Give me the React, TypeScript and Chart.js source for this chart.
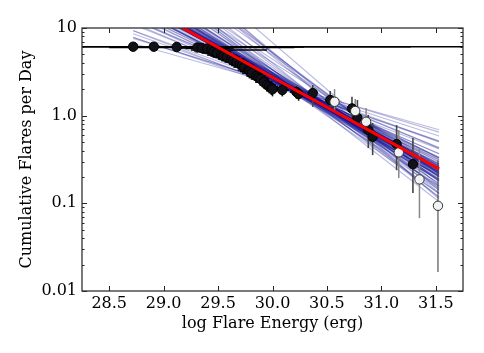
import React, { useEffect, useRef } from 'react';
import { Chart, registerables } from 'chart.js';

Chart.register(...registerables);

// ---------- data ----------
// filled (detected) flares: log energy, cumulative rate, vertical error range, horizontal error range
const filledEnergy = [28.72, 28.91, 29.12, 29.31, 29.35, 29.40, 29.44, 29.46, 29.49, 29.53, 29.55, 29.58, 29.62, 29.64, 29.67, 29.70, 29.72, 29.74, 29.78, 29.79, 29.81, 29.85, 29.87, 29.89, 29.92, 29.95, 29.97, 29.99, 30.00, 30.09, 30.22, 30.24, 30.37, 30.53, 30.73, 30.78, 30.88, 30.92, 31.14, 31.29];
const filledRate = [6.12, 6.12, 6.07, 5.99, 5.91, 5.83, 5.61, 5.40, 5.18, 4.92, 4.80, 4.67, 4.43, 4.25, 4.09, 3.88, 3.75, 3.59, 3.32, 3.20, 3.06, 2.83, 2.72, 2.62, 2.42, 2.24, 2.15, 2.07, 2.00, 1.96, 1.86, 1.77, 1.81, 1.51, 1.21, 0.946, 0.685, 0.574, 0.474, 0.280];
const filledRateLo = [5.85, 5.85, 5.80, 5.70, 5.62, 5.52, 5.30, 5.08, 4.86, 4.60, 4.47, 4.33, 4.09, 3.91, 3.74, 3.53, 3.40, 3.24, 2.97, 2.85, 2.70, 2.48, 2.36, 2.25, 2.05, 1.88, 1.80, 1.72, 1.66, 1.66, 1.56, 1.48, 1.26, 1.25, 0.94, 0.80, 0.427, 0.355, 0.239, 0.131];
const filledRateHi = [6.40, 6.40, 6.35, 6.28, 6.20, 6.14, 5.92, 5.72, 5.50, 5.24, 5.13, 5.01, 4.77, 4.59, 4.44, 4.23, 4.10, 3.94, 3.67, 3.55, 3.42, 3.18, 3.08, 2.99, 2.79, 2.60, 2.50, 2.42, 2.34, 2.26, 2.16, 2.06, 2.24, 1.91, 1.64, 1.51, 1.02, 0.824, 0.781, 0.555];
const filledEnergyLo = [28.25, 28.25, 28.85, 28.5, 29.10, 29.20, 29.25, 29.32, 29.35, 29.40, 29.43, 29.45, 29.50, 29.53, 29.56, 29.60, 29.62, 29.64, 29.68, 29.70, 29.72, 29.76, 29.78, 29.80, 29.84, 29.88, 29.90, 29.92, 29.94, 30.03, 30.16, 30.18, 30.37, 30.53, 30.73, 30.78, 30.88, 30.92, 31.14, 31.29];
const filledEnergyHi = [31.75, 31.27, 30.29, 30.20, 29.65, 29.60, 29.95, 29.62, 29.62, 29.66, 29.68, 29.70, 29.74, 29.76, 29.78, 29.81, 29.83, 29.85, 29.88, 29.89, 29.91, 29.94, 29.96, 29.97, 30.00, 30.03, 30.05, 30.06, 30.07, 30.15, 30.28, 30.30, 30.37, 30.53, 30.73, 30.78, 30.88, 30.92, 31.14, 31.29];

// open (hollow) markers
const openEnergy = [30.57, 30.76, 30.86, 31.16, 31.35, 31.52];
const openRate = [1.44, 1.13, 0.852, 0.381, 0.1875, 0.0937];
const openRateLo = [1.16, 0.867, 0.60, 0.194, 0.0678, 0.0165];
const openRateHi = [2.01, 1.55, 1.22, 0.685, 0.427, 0.311];

// best-fit power law (red) and posterior samples (blue), given at the two ends of the fit range
const fitEnergy = [28.72, 31.53];
const bestFitRate = [20.5, 0.247];
const sampleStartLog = [1.304, 1.326, 1.277, 1.378, 1.19, 1.385, 1.452, 1.208, 1.233, 1.376, 1.444, 1.146, 1.231, 1.419, 1.30, 1.543, 1.642, 1.741, 1.109, 1.04, 0.971, 0.892, 0.823, 0.894, 0.88, 0.968, 1.65, 1.576, 1.88, 1.754, 1.491, 1.299, 1.265, 1.312, 1.363, 1.467, 1.164, 1.334, 1.557, 1.448, 1.323, 1.101, 1.057, 1.26, 1.418, 1.529, 1.311, 1.415, 1.182, 1.53, 1.346, 1.269, 1.349, 1.22, 1.717, 0.935, 1.092, 1.665, 1.372, 1.227, 2.20, 2.05, 1.95, 2.10, 1.90, 1.82, 1.98, 1.70, 1.60, 1.51, 1.40, 1.35, 1.29, 1.31, 1.33, 1.36, 1.30, 1.28, 1.34, 1.32, 1.35, 1.31, 1.29, 1.42, 1.45, 1.38, 1.48];
const sampleEndLog = [-0.606, -0.641, -0.55, -0.646, -0.553, -0.723, -0.739, -0.478, -0.622, -0.591, -0.804, -0.483, -0.567, -0.66, -0.639, -0.846, -0.887, -0.929, -0.437, -0.365, -0.294, -0.232, -0.161, -0.287, -0.187, -0.38, -0.822, -0.729, -0.93, -0.832, -0.645, -0.584, -0.505, -0.683, -0.688, -0.697, -0.55, -0.576, -0.803, -0.772, -0.532, -0.501, -0.432, -0.679, -0.606, -0.888, -0.487, -0.693, -0.476, -0.746, -0.621, -0.614, -0.73, -0.523, -0.981, -0.301, -0.37, -0.78, -0.623, -0.60, -0.80, -0.85, -0.75, -0.95, -0.70, -0.66, -0.88, -0.62, -0.58, -0.66, -0.60, -0.66, -0.61, -0.63, -0.59, -0.65, -0.62, -0.57, -0.64, -0.66, -0.61, -0.68, -0.60, -0.70, -0.72, -0.67, -0.74];

// axes
const xTickValues = [28.5, 29.0, 29.5, 30.0, 30.5, 31.0, 31.5];
const xTickLabels = ['28.5', '29.0', '29.5', '30.0', '30.5', '31.0', '31.5'];
const yTickValues = [0.01, 0.1, 1, 10];
const yTickLabels = ['0.01', '0.1', '1.0', '10'];
const yMinorTicks = [0.02, 0.03, 0.04, 0.05, 0.06, 0.07, 0.08, 0.09, 0.2, 0.3, 0.4, 0.5, 0.6, 0.7, 0.8, 0.9, 2, 3, 4, 5, 6, 7, 8, 9];
const xLimits = [28.25, 31.75];
const yLimits = [0.01, 10];

const FONT = "'DejaVu Serif', serif";
const FONT_SIZE = 16;

const frameTicks = {
  id: 'frameTicks',
  afterDatasetsDraw(chart: any) {
    const { ctx, chartArea, scales } = chart;
    const { left, right, top, bottom } = chartArea;
    const x = scales.x;
    const y = scales.y;
    ctx.save();
    ctx.strokeStyle = '#222';
    ctx.lineWidth = 1;
    const seg = (x1: number, y1: number, x2: number, y2: number) => {
      ctx.beginPath();
      ctx.moveTo(x1, y1);
      ctx.lineTo(x2, y2);
      ctx.stroke();
    };
    for (const t of xTickValues) {
      const px = Math.round(x.getPixelForValue(t)) + 0.5;
      seg(px, bottom, px, bottom - 5);
      seg(px, top, px, top + 5);
    }
    for (const t of yTickValues) {
      const py = Math.round(y.getPixelForValue(t)) + 0.5;
      seg(left, py, left + 5, py);
      seg(right, py, right - 5, py);
    }
    for (const t of yMinorTicks) {
      const py = Math.round(y.getPixelForValue(t)) + 0.5;
      seg(left, py, left + 2.5, py);
      seg(right, py, right - 2.5, py);
    }
    ctx.lineWidth = 1.3;
    ctx.strokeStyle = '#333';
    ctx.strokeRect(left, top, right - left, bottom - top);
    ctx.restore();
  },
};

export default function App() {
  const ref = useRef<HTMLCanvasElement>(null);

  useEffect(() => {
    if (!ref.current) return;
    const datasets: any[] = [];

    datasets.push({
      data: fitEnergy.map((e, i) => ({ x: e, y: bestFitRate[i] })),
      showLine: true,
      borderColor: '#ff0000',
      borderWidth: 3,
      pointRadius: 0,
      order: 0,
    });

    datasets.push({
      data: openEnergy.map((e, i) => ({ x: e, y: openRate[i] })),
      pointRadius: 4.7,
      backgroundColor: '#f2f2f2',
      borderColor: '#333',
      borderWidth: 1,
      order: 1,
    });

    datasets.push({
      data: filledEnergy.map((e, i) => ({ x: e, y: filledRate[i] })),
      pointRadius: 4.7,
      backgroundColor: '#111118',
      borderColor: '#000',
      borderWidth: 1,
      order: 2,
    });

    // horizontal error bars (black), one small dataset each
    filledEnergy.forEach((e, i) => {
      if (filledEnergyHi[i] - filledEnergyLo[i] > 0.001) {
        datasets.push({
          data: [
            { x: filledEnergyLo[i], y: filledRate[i] },
            { x: filledEnergyHi[i], y: filledRate[i] },
          ],
          showLine: true,
          borderColor: '#000',
          borderWidth: 1.6,
          pointRadius: 0,
          order: 3,
        });
      }
    });

    // vertical error bars for filled markers
    filledEnergy.forEach((e, i) => {
      datasets.push({
        data: [
          { x: e, y: filledRateLo[i] },
          { x: e, y: filledRateHi[i] },
        ],
        showLine: true,
        borderColor: i < 32 ? '#111' : '#444',
        borderWidth: 1.6,
        pointRadius: 0,
        order: 3,
      });
    });

    // vertical error bars for open markers
    openEnergy.forEach((e, i) => {
      datasets.push({
        data: [
          { x: e, y: openRateLo[i] },
          { x: e, y: openRateHi[i] },
        ],
        showLine: true,
        borderColor: i === openEnergy.length - 1 ? '#444' : '#888',
        borderWidth: i === openEnergy.length - 1 ? 1.1 : 1.5,
        pointRadius: 0,
        order: 3,
      });
    });

    // posterior sample lines
    sampleStartLog.forEach((s, i) => {
      datasets.push({
        data: [
          { x: fitEnergy[0], y: Math.pow(10, s) },
          { x: fitEnergy[1], y: Math.pow(10, sampleEndLog[i]) },
        ],
        showLine: true,
        borderColor: 'rgba(15,15,145,0.28)',
        borderWidth: 1.2,
        pointRadius: 0,
        order: 10,
      });
    });

    const chart = new Chart(ref.current, {
      type: 'scatter',
      data: { datasets },
      options: {
        animation: false,
        responsive: false,
        events: [],
        layout: { padding: { top: 28, right: 21, left: 0, bottom: 0 } },
        plugins: { legend: { display: false }, tooltip: { enabled: false } },
        scales: {
          x: {
            type: 'linear',
            min: xLimits[0],
            max: xLimits[1],
            grid: { display: false, drawTicks: false },
            border: { display: false },
            afterBuildTicks: (s: any) => {
              s.ticks = xTickValues.map((v) => ({ value: v }));
            },
            afterFit: (s: any) => {
              s.height = 62;
            },
            ticks: {
              autoSkip: false,
              maxRotation: 0,
              padding: 3,
              color: '#000',
              font: { family: FONT, size: FONT_SIZE },
              callback: (_v: any, i: number) => xTickLabels[i],
            },
            title: {
              display: true,
              text: 'log Flare Energy (erg)',
              color: '#000',
              font: { family: FONT, size: FONT_SIZE },
              padding: { top: 0, bottom: 20 },
            },
          },
          y: {
            type: 'logarithmic',
            min: yLimits[0],
            max: yLimits[1],
            grid: { display: false, drawTicks: false },
            border: { display: false },
            afterBuildTicks: (s: any) => {
              s.ticks = yTickValues.map((v) => ({ value: v }));
            },
            afterFit: (s: any) => {
              s.width = 82;
            },
            ticks: {
              autoSkip: false,
              padding: 5,
              color: '#000',
              font: { family: FONT, size: FONT_SIZE },
              callback: (_v: any, i: number) => yTickLabels[i],
            },
            title: {
              display: true,
              text: 'Cumulative Flares per Day',
              color: '#000',
              font: { family: FONT, size: FONT_SIZE },
              padding: { top: 17, bottom: 0 },
            },
          },
        },
      },
      plugins: [frameTicks],
    });

    return () => chart.destroy();
  }, []);

  return (
    <div style={{ position: 'fixed', left: 0, top: 0, width: 484, height: 353, background: '#fff' }}>
      <canvas ref={ref} width={484} height={353} style={{ display: 'block', width: 484, height: 353 }} />
    </div>
  );
}
